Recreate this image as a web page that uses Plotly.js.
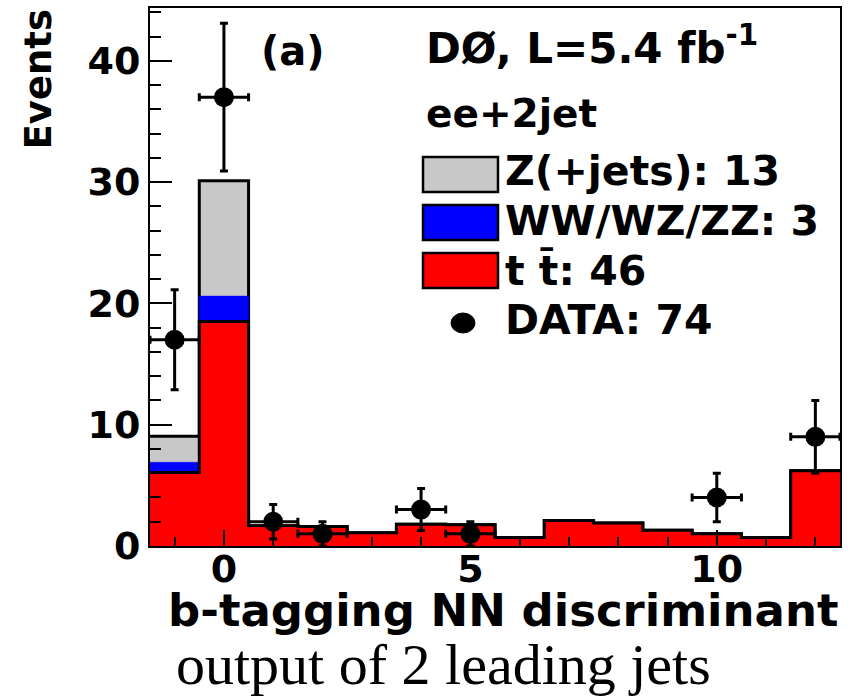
<!DOCTYPE html>
<html><head><meta charset="utf-8">
<script src="https://cdn.plot.ly/plotly-3.0.1.min.js"></script>
<style>html,body{margin:0;padding:0;background:#fff}</style>
</head><body>
<div id="chart" style="width:852px;height:699px"></div>
<script>
// ---- data ----
const binCenters = [-1, 0, 1, 2, 3, 4, 5, 6, 7, 8, 9, 10, 11, 12];
const ttbar      = [6.05, 18.5, 1.7, 1.6, 1.1, 1.8, 1.75, 0.7, 2.1, 1.9, 1.3, 1.0, 0.7, 6.2];
const diboson    = [0.85, 2.1, 0, 0, 0, 0, 0, 0, 0, 0, 0, 0, 0, 0];
const zjets      = [2.15, 9.5, 0, 0, 0, 0, 0, 0, 0, 0, 0, 0, 0, 0];
const dataCounts = [17, 37, 2, 1, 0, 3, 1, 0, 0, 0, 0, 4, 0, 9];
const legendLabels = ["Z(+jets): 13", "WW/WZ/ZZ: 3", "t t\u0304: 46", "DATA: 74"];
const xTitle = "b-tagging NN discriminant";
const xSubTitle = "output of 2 leading jets";
const yTitle = "Events";

// ---- geometry helpers ----
const W = 852, H = 699, ML = 150, MR = 12, MT = 8, MB = 153;
const PW = W - ML - MR, PH = H - MT - MB;
const px = v => (v - ML) / PW;
const py = v => (H - MB - v) / PH;

// step-histogram coordinates built from bin values
const n = binCenters.length;
const stepX = binCenters.map(c => c - 0.5).concat([binCenters[n - 1] + 0.5]);
const stepY = vals => vals.concat([vals[vals.length - 1]]);
const redTop = ttbar.slice();
const blueTop = ttbar.map((v, i) => v + diboson[i]);
const greyTop = blueTop.map((v, i) => v + zjets[i]);

const dX = [], dY = [], dE = [];
dataCounts.forEach((c, i) => { if (c > 0) { dX.push(binCenters[i]); dY.push(c); dE.push(Math.sqrt(c)); } });

const BOLD = {family: 'DejaVu Sans', weight: 'bold', color: '#000'};
const bold = s => Object.assign({size: s}, BOLD);

const traces = [
  {x: stepX, y: stepY(greyTop), mode: 'lines', line: {shape: 'hv', color: '#000', width: 3},
   fill: 'tozeroy', fillcolor: '#c8c8c8', hoverinfo: 'skip'},
  {x: stepX, y: stepY(blueTop), mode: 'lines', line: {shape: 'hv', color: '#0000ff', width: 0.5},
   fill: 'tozeroy', fillcolor: '#0000ff', hoverinfo: 'skip'},
  {x: stepX, y: stepY(redTop), mode: 'lines', line: {shape: 'hv', color: '#000', width: 3},
   fill: 'tozeroy', fillcolor: '#ff0000', hoverinfo: 'skip'},
  {x: dX, y: dY, mode: 'markers', marker: {color: '#000', size: 20},
   error_y: {type: 'data', array: dE, color: '#000', thickness: 3, width: 4},
   error_x: {type: 'constant', value: 0.5, color: '#000', thickness: 3, width: 4}}
];

const legendRows = [
  {y0: 157, y1: 192, fill: '#c8c8c8', ty: 171},
  {y0: 205, y1: 240, fill: '#0000ff', ty: 221},
  {y0: 253, y1: 288, fill: '#ff0000', ty: 271},
  {ty: 320}
];

const shapes = [];
legendRows.forEach(r => {
  if (r.fill) shapes.push({type: 'rect', xref: 'paper', yref: 'paper',
    x0: px(423), x1: px(498), y0: py(r.y1), y1: py(r.y0),
    fillcolor: r.fill, line: {color: '#000', width: 2.5}});
});
shapes.push({type: 'circle', xref: 'paper', yref: 'paper',
  x0: px(451), x1: px(475), y0: py(333), y1: py(313), fillcolor: '#000', line: {color: '#000', width: 1}});

const annotations = [
  {text: yTitle, textangle: -90, x: px(38), y: py(7), xanchor: 'center', yanchor: 'top', font: bold(37)},
  {text: xTitle, x: px(841), y: py(610), xanchor: 'right', yanchor: 'middle', font: bold(45)},
  {text: xSubTitle, x: px(443), y: py(665), xanchor: 'center', yanchor: 'middle',
   font: {family: 'Liberation Serif', size: 58, color: '#000'}},
  {text: '(a)', x: px(259), y: py(51), xanchor: 'left', yanchor: 'middle', font: bold(40)},
  {text: 'DØ, L=5.4 fb<sup>-1</sup>', x: px(424), y: py(45), xanchor: 'left', yanchor: 'middle', font: bold(42)},
  {text: 'ee+2jet', x: px(424), y: py(113), xanchor: 'left', yanchor: 'middle', font: bold(39)}
];
legendRows.forEach((r, i) => annotations.push({text: legendLabels[i], x: px(503), y: py(r.ty),
  xanchor: 'left', yanchor: 'middle', font: bold(41)}));
annotations.forEach(a => { a.xref = 'paper'; a.yref = 'paper'; a.showarrow = false; });

const layout = {
  width: W, height: H,
  margin: {l: ML, r: MR, t: MT, b: MB},
  paper_bgcolor: '#fff', plot_bgcolor: '#fff',
  showlegend: false,
  xaxis: {range: [-1.5, 12.5], tick0: 0, dtick: 5, ticks: 'inside', ticklen: 16, tickwidth: 2,
    tickcolor: '#000', showline: true, linecolor: '#000', linewidth: 2, mirror: true,
    showgrid: false, zeroline: false, tickfont: bold(38), ticklabelstandoff: -12,
    minor: {tick0: 0, dtick: 1, ticks: 'inside', ticklen: 9, tickwidth: 2, tickcolor: '#000', showgrid: false}},
  yaxis: {range: [0, 44.35], tick0: 0, dtick: 10, ticks: 'inside', ticklen: 22, tickwidth: 2,
    tickcolor: '#000', showline: true, linecolor: '#000', linewidth: 2, mirror: true,
    showgrid: false, zeroline: false, tickfont: bold(38),
    minor: {tick0: 0, dtick: 2, ticks: 'inside', ticklen: 11, tickwidth: 2, tickcolor: '#000', showgrid: false}},
  shapes: shapes,
  annotations: annotations
};

Plotly.newPlot('chart', traces, layout, {displayModeBar: false, staticPlot: true});
</script>
</body></html>
